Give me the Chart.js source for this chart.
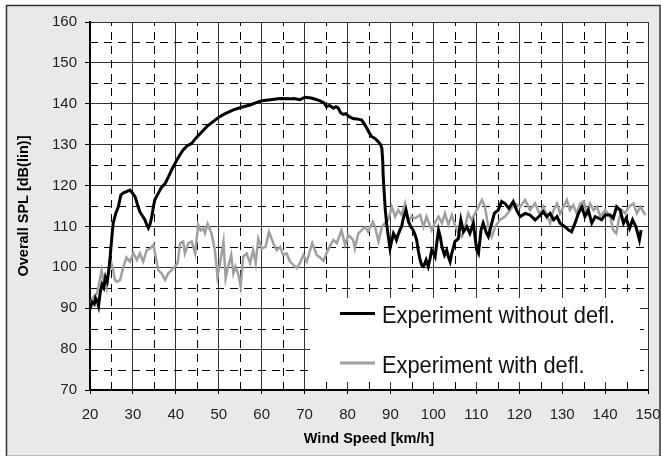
<!DOCTYPE html>
<html>
<head>
<meta charset="utf-8">
<script src="https://cdn.jsdelivr.net/npm/chart.js@4/dist/chart.umd.min.js"></script>
<style>
  html, body { margin: 0; padding: 0; background: #fff; }
  canvas { display: block; }
</style>
</head>
<body>
<canvas id="spl" width="661" height="456"></canvas>
<script>
// Overall SPL vs wind speed, with and without deflector

// axis ranges / ticks
const X_MIN = 20, X_MAX = 150, X_STEP = 10;
const Y_MIN = 70, Y_MAX = 160, Y_STEP = 10;

const seriesNames = ['Experiment without defl.', 'Experiment with defl.'];

// without deflector: [km/h, dB]
const speedNoDefl = [
  20.0, 20.5, 21.0, 21.3, 21.7, 22.0, 22.4, 22.8, 23.2, 23.6, 24.0, 24.4, 24.7, 25.1, 25.4, 26.0,
  26.6, 27.2, 27.8, 28.5, 29.3, 29.8, 30.5, 31.1, 31.6, 32.2, 32.8, 33.3, 33.6, 34.0, 34.4, 34.8,
  35.1, 35.9, 36.6, 37.5, 38.3, 39.0, 40.2, 41.0, 41.7, 42.6, 43.7, 44.5, 45.2, 46.2, 47.2, 48.5,
  50.0, 51.5, 53.4, 55.5, 57.3, 58.7, 60.0, 62.0, 64.3, 66.5, 67.5, 68.9, 70.1, 71.5, 72.5, 73.6,
  74.5, 75.1, 75.8, 76.7, 77.3, 77.8, 78.4, 79.0, 79.6, 80.3, 81.3, 82.2, 83.3, 84.0, 84.5, 85.0,
  85.6, 86.3, 87.2, 87.7, 88.0, 88.2, 88.3, 88.5, 88.8, 89.1, 89.5, 89.9, 90.3, 90.7, 91.1, 91.4,
  91.8, 92.2, 92.6, 93.0, 93.6, 94.2, 94.7, 95.3, 95.7, 96.1, 96.5, 96.9, 97.3, 97.7, 98.0, 98.3,
  98.8, 99.2, 99.6, 100.0, 100.4, 100.8, 101.2, 101.6, 102.0, 102.6, 103.1, 103.5, 103.9, 104.3, 104.7, 105.0,
  105.8, 106.4, 107.0, 107.8, 108.5, 109.3, 109.7, 110.1, 110.5, 111.1, 111.6, 112.4, 112.8, 113.6, 114.2, 115.1,
  115.9, 116.7, 117.6, 118.6, 119.4, 120.2, 121.4, 122.5, 123.7, 124.8, 125.6, 126.4, 127.2, 128.0, 128.8, 129.5,
  130.7, 131.5, 132.2, 133.0, 133.8, 134.6, 135.3, 136.1, 136.9, 137.7, 138.5, 139.2, 140.0, 141.2, 141.9, 142.7,
  143.5, 144.3, 144.9, 145.7, 146.4, 147.2, 148.0, 148.4
];
const splNoDefl = [
  89.8, 91.5, 91.0, 92.5, 91.8, 90.6, 94.0, 95.8, 95.0, 97.5, 96.5, 99.5, 102.6, 107.5, 110.8, 113.2,
  114.8, 117.7, 118.2, 118.5, 118.9, 118.3, 117.3, 115.2, 113.6, 112.6, 111.6, 110.2, 109.6, 110.6, 112.4, 115.0,
  116.5, 118.1, 119.5, 120.5, 122.2, 123.8, 126.2, 127.6, 128.7, 129.7, 130.3, 131.4, 132.2, 133.3, 134.4, 135.5,
  136.7, 137.6, 138.5, 139.2, 139.7, 140.3, 140.75, 141.0, 141.3, 141.2, 141.3, 141.0, 141.6, 141.4, 141.1, 140.7,
  140.2, 139.3, 139.6, 138.9, 139.3, 139.0, 137.8, 137.4, 137.6, 136.9, 136.4, 136.3, 136.0, 134.9, 134.0, 133.0,
  132.0, 131.6, 130.7, 130.0, 129.1, 126.0, 122.5, 118.9, 114.0, 110.8, 107.5, 104.6, 106.5, 108.3, 107.5, 106.7,
  108.0, 109.1, 110.0, 112.0, 114.0, 111.2, 110.0, 109.1, 108.0, 106.7, 104.0, 101.8, 100.5, 100.2, 101.0, 101.8,
  100.2, 102.0, 104.2, 103.5, 102.6, 106.0, 109.1, 107.5, 105.0, 103.0, 104.2, 102.5, 101.4, 103.5, 105.0, 106.3,
  107.0, 111.6, 108.7, 109.9, 108.3, 110.8, 107.5, 104.2, 103.4, 109.1, 110.8, 108.3, 107.5, 110.8, 113.2, 114.0,
  116.1, 115.6, 114.4, 116.1, 114.0, 112.4, 113.2, 112.8, 111.6, 112.6, 113.6, 112.4, 113.2, 111.6, 112.4, 110.8,
  109.9, 109.1, 108.7, 110.8, 113.2, 114.8, 112.4, 114.0, 110.8, 112.4, 112.0, 111.6, 112.8, 112.8, 112.0, 114.8,
  114.0, 110.8, 112.0, 109.5, 111.6, 109.9, 106.7, 109.1
];

// with deflector: [km/h, dB]
const speedDefl = [
  20.0, 20.8, 21.6, 22.2, 22.7, 23.1, 23.5, 23.9, 24.3, 24.7, 25.1, 25.4, 25.8, 26.2, 27.0, 27.8,
  28.5, 29.3, 30.1, 30.9, 31.6, 32.4, 33.2, 34.0, 34.8, 35.3, 35.9, 36.7, 37.5, 38.2, 39.0, 39.8,
  40.4, 41.0, 41.7, 42.1, 42.9, 43.7, 44.5, 45.2, 45.8, 46.4, 46.8, 47.4, 48.3, 49.1, 49.7, 50.3,
  51.1, 51.6, 52.2, 52.9, 53.4, 53.9, 54.6, 55.1, 55.7, 56.5, 57.3, 58.0, 58.6, 59.2, 60.0, 60.9,
  61.7, 62.7, 63.5, 64.3, 65.0, 65.8, 66.6, 67.4, 68.2, 68.9, 69.7, 70.5, 71.3, 71.8, 72.8, 73.6,
  74.4, 75.1, 75.8, 76.7, 77.5, 78.6, 79.4, 80.2, 81.3, 81.7, 82.5, 83.3, 84.1, 84.8, 85.9, 86.4,
  87.2, 88.0, 88.7, 89.5, 90.3, 91.1, 91.8, 92.6, 93.4, 94.2, 94.9, 95.7, 96.9, 97.7, 98.4, 99.6,
  100.4, 101.2, 102.0, 102.7, 103.5, 104.3, 105.0, 105.8, 106.6, 107.4, 108.1, 108.9, 109.7, 110.5, 111.3, 112.0,
  112.8, 113.6, 114.4, 115.5, 116.7, 117.9, 119.0, 120.2, 121.4, 122.5, 123.7, 124.8, 125.6, 126.4, 127.2, 128.0,
  128.8, 129.5, 130.3, 131.1, 131.8, 132.6, 133.4, 134.2, 135.0, 135.8, 136.5, 137.3, 138.1, 138.9, 140.0, 141.2,
  141.9, 142.6, 143.2, 143.9, 144.7, 145.5, 146.6, 147.4, 148.2, 149.4
];
const splDefl = [
  91.0, 92.8, 93.6, 96.5, 99.3, 96.9, 98.0, 95.3, 99.3, 102.2, 100.5, 99.3, 97.0, 96.5, 96.9, 100.2,
  102.4, 101.4, 103.4, 101.8, 103.4, 101.4, 104.2, 104.6, 105.5, 102.6, 99.3, 98.5, 96.9, 98.5, 99.3, 100.2,
  101.0, 105.9, 106.3, 103.4, 105.9, 106.3, 103.4, 110.4, 109.0, 109.5, 108.3, 110.6, 108.3, 104.2, 97.7, 101.0,
  106.3, 97.3, 100.2, 103.0, 98.5, 100.2, 98.1, 95.3, 102.6, 103.4, 101.0, 104.2, 101.0, 107.0, 104.6, 105.0,
  108.7, 105.9, 104.2, 105.0, 103.0, 103.4, 101.4, 100.6, 99.8, 101.0, 103.0, 101.4, 104.2, 105.9, 103.0, 102.4,
  101.6, 103.4, 105.0, 106.7, 105.9, 109.1, 105.5, 107.9, 106.7, 104.6, 108.3, 109.1, 109.9, 108.7, 111.2, 109.9,
  106.3, 109.9, 110.8, 111.6, 114.8, 112.4, 114.0, 112.8, 115.6, 111.2, 112.4, 112.0, 112.8, 109.9, 112.4, 109.1,
  111.0, 112.4, 110.8, 113.2, 110.4, 112.8, 110.4, 108.3, 107.5, 109.9, 113.2, 111.6, 113.2, 114.8, 116.5, 114.8,
  109.9, 107.5, 109.9, 111.6, 112.4, 114.0, 115.6, 114.8, 116.5, 114.0, 115.6, 112.8, 114.8, 112.8, 110.8, 114.0,
  115.6, 113.2, 114.8, 116.5, 114.0, 115.2, 113.2, 115.6, 116.1, 113.2, 115.6, 114.0, 114.8, 112.4, 114.0, 112.4,
  109.1, 108.3, 111.6, 114.0, 113.2, 114.8, 115.6, 113.2, 114.8, 112.8
];

const toPoints = (xs, ys) => xs.map((x, i) => ({ x, y: ys[i] }));

const FONT = '"Liberation Sans", Arial, sans-serif';

// frame, grey page, white plot area, dashed half-step grid, legend box
const frameAndGrid = {
  id: 'frameAndGrid',
  beforeDraw(chart) {
    const { ctx, chartArea: ca, width, height } = chart;
    ctx.save();
    ctx.fillStyle = '#fff';
    ctx.fillRect(0, 0, width, height);
    ctx.fillStyle = '#e9e9e9';
    ctx.fillRect(6, 5, width - 7, height - 5);
    ctx.strokeStyle = '#333';
    ctx.lineWidth = 1.5;
    ctx.strokeRect(6.5, 5.5, width - 7.5, height - 5);
    ctx.fillStyle = '#fff';
    ctx.fillRect(ca.left, ca.top, ca.right - ca.left, ca.bottom - ca.top);
    ctx.restore();
  },
  beforeDatasetsDraw(chart) {
    const { ctx, chartArea: ca, scales: { x, y } } = chart;
    ctx.save();
    ctx.strokeStyle = '#000';
    ctx.lineWidth = 1;
    ctx.setLineDash([8, 6]);
    for (let v = X_MIN + X_STEP / 2; v < X_MAX; v += X_STEP) {
      const px = Math.round(x.getPixelForValue(v)) + 0.5;
      ctx.beginPath();
      ctx.moveTo(px, ca.bottom);
      ctx.lineTo(px, ca.top);
      ctx.stroke();
    }
    for (let v = Y_MIN + Y_STEP / 2; v < Y_MAX; v += Y_STEP) {
      const py = Math.round(y.getPixelForValue(v)) + 0.5;
      ctx.beginPath();
      ctx.moveTo(ca.left, py);
      ctx.lineTo(ca.right, py);
      ctx.stroke();
    }
    ctx.setLineDash([]);

    // legend, sitting in the lower right corner of the plot
    const bx = ca.right - 338, by = ca.bottom - 92;
    ctx.fillStyle = '#fff';
    ctx.fillRect(bx, by, 330, 84);

    const colors = ['#000', '#a0a0a0'];
    ctx.font = '24px ' + FONT;
    ctx.textBaseline = 'alphabetic';
    ctx.textAlign = 'left';
    const k = 233 / ctx.measureText(seriesNames[0]).width;
    seriesNames.forEach((name, i) => {
      const ly = by + 15.5 + i * 49.5;
      ctx.strokeStyle = colors[i];
      ctx.lineWidth = 3;
      ctx.beginPath();
      ctx.moveTo(bx + 30, ly);
      ctx.lineTo(bx + 65, ly);
      ctx.stroke();
      ctx.fillStyle = '#111';
      ctx.fillText(name, bx + 72, ly + 9.5, ctx.measureText(name).width * k);
    });
    ctx.restore();
  }
};

new Chart(document.getElementById('spl'), {
  type: 'line',
  data: {
    datasets: [
      {
        label: seriesNames[0],
        data: toPoints(speedNoDefl, splNoDefl),
        borderColor: '#000',
        borderWidth: 3,
        pointRadius: 0,
        tension: 0,
        fill: false
      },
      {
        label: seriesNames[1],
        data: toPoints(speedDefl, splDefl),
        borderColor: '#a0a0a0',
        borderWidth: 2.5,
        pointRadius: 0,
        tension: 0,
        fill: false
      }
    ]
  },
  options: {
    responsive: false,
    animation: false,
    layout: { padding: { top: 22, right: 13, left: 0, bottom: 0 } },
    plugins: {
      legend: { display: false },
      tooltip: { enabled: false }
    },
    scales: {
      x: {
        type: 'linear',
        min: X_MIN,
        max: X_MAX,
        afterFit: s => { s.height = 66; s.paddingLeft = 0; s.paddingRight = 0; },
        ticks: { stepSize: X_STEP, color: '#222', padding: 12, font: { family: FONT, size: 15 } },
        grid: { color: '#333', lineWidth: 1, tickLength: 4, tickColor: '#000' },
        border: { color: '#000', width: 2 },
        title: {
          display: true,
          text: 'Wind Speed [km/h]',
          color: '#000',
          font: { family: FONT, size: 14.5, weight: 'bold' },
          padding: { top: 0, bottom: 8 }
        }
      },
      y: {
        min: Y_MIN,
        max: Y_MAX,
        afterFit: s => { s.width = 90; s.paddingTop = 0; s.paddingBottom = 0; },
        ticks: { stepSize: Y_STEP, color: '#222', padding: 8, font: { family: FONT, size: 15 } },
        grid: { color: '#333', lineWidth: 1, tickLength: 5, tickColor: '#000' },
        border: { color: '#000', width: 2 },
        title: {
          display: true,
          text: 'Overall SPL [dB(lin)]',
          color: '#000',
          font: { family: FONT, size: 14.5, weight: 'bold' },
          padding: { top: 15, bottom: 0 }
        }
      }
    }
  },
  plugins: [frameAndGrid]
});
</script>
</body>
</html>
